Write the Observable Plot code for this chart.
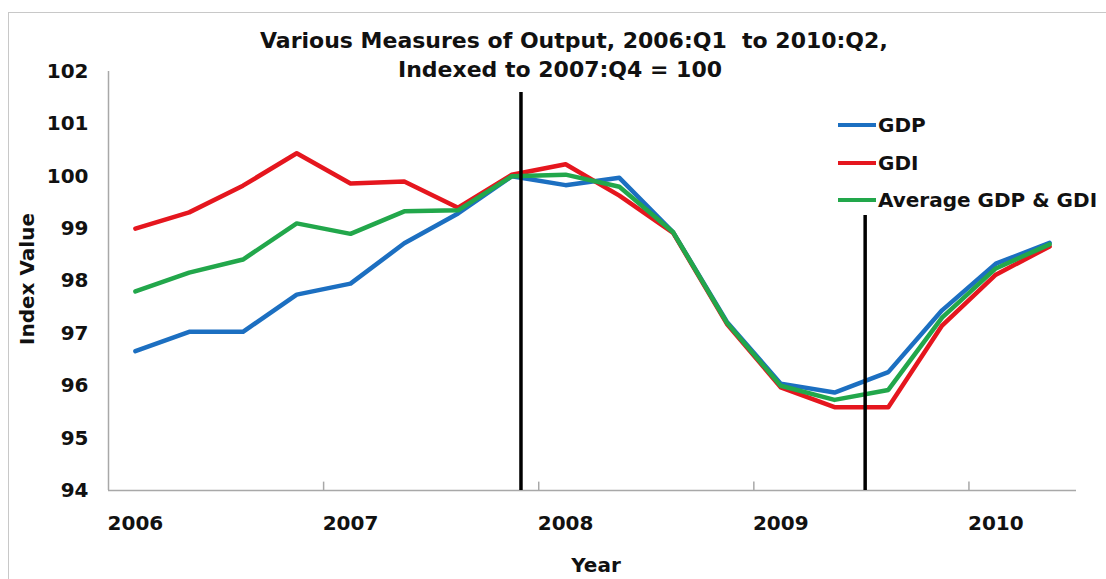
<!DOCTYPE html>
<html>
<head>
<meta charset="utf-8">
<script src="https://cdn.jsdelivr.net/npm/d3@7"></script>
<script src="https://cdn.jsdelivr.net/npm/@observablehq/plot@0.6"></script>
<style>
  html, body { margin: 0; padding: 0; background: #fff; overflow: hidden; }
  #wrap { position: relative; width: 1106px; height: 579px; font-family: "DejaVu Sans", sans-serif; font-weight: bold; color: #111; }
  #chart { position: absolute; left: 0; top: 0; }
  #frame { position: absolute; left: 8px; top: 12px; width: 1300px; height: 800px; border: 1.5px solid #c8c8c8; box-sizing: border-box; pointer-events: none; }
  #title { position: absolute; left: 260px; width: 600px; top: 26px; text-align: center; font-size: 22px; line-height: 29px; white-space: pre; }
  .leg { position: absolute; left: 838px; height: 20px; display: flex; align-items: center; font-size: 20px; line-height: 20px; white-space: nowrap; }
  .sw { width: 38px; height: 4px; margin-right: 2px; }
  #ytitle { position: absolute; left: 27px; top: 279px; font-size: 20px; line-height: 20px; white-space: nowrap; transform: translate(-50%, -50%) rotate(-90deg); }
  #xtitle { position: absolute; left: 596px; top: 565px; font-size: 20px; line-height: 20px; white-space: nowrap; transform: translate(-50%, -50%); }
</style>
</head>
<body>
<div id="wrap">
  <div id="chart"></div>
  <div id="frame"></div>
  <div id="title"></div>
  <div id="legend"></div>
  <div id="ytitle"></div>
  <div id="xtitle"></div>
</div>
<script>
// ---- data ----
const quarters = ["2006:Q1","2006:Q2","2006:Q3","2006:Q4","2007:Q1","2007:Q2","2007:Q3","2007:Q4",
                  "2008:Q1","2008:Q2","2008:Q3","2008:Q4","2009:Q1","2009:Q2","2009:Q3","2009:Q4",
                  "2010:Q1","2010:Q2"];
const gdp = [96.66, 97.03, 97.03, 97.74, 97.95, 98.72, 99.29, 100.00, 99.83, 99.97, 98.93, 97.22, 96.04, 95.87, 96.26, 97.44, 98.33, 98.73];
const gdi = [99.00, 99.31, 99.82, 100.44, 99.86, 99.90, 99.40, 100.03, 100.23, 99.63, 98.92, 97.18, 95.97, 95.59, 95.59, 97.15, 98.12, 98.66];
const avg = [97.80, 98.16, 98.41, 99.10, 98.90, 99.33, 99.35, 100.00, 100.03, 99.80, 98.93, 97.20, 96.00, 95.73, 95.92, 97.30, 98.24, 98.70];
const seriesNames = ["GDP", "GDI", "Average GDP & GDI"];
const seriesColors = ["#1c6fc1", "#e5161e", "#22a74b"];
const yTicks = [94, 95, 96, 97, 98, 99, 100, 101, 102];
const yearLabels = ["2006", "2007", "2008", "2009", "2010"];
const yearTickIndex = [0, 4, 8, 12, 16];
const yearBoundaries = [3.5, 7.5, 11.5, 15.5];
// recession markers (quarter-index position, top value of marker)
const recessionX = [7.17, 13.57];
const recessionTop = [101.6, 99.25];
const titleLines = ["Various Measures of Output, 2006:Q1  to 2010:Q2,", "Indexed to 2007:Q4 = 100"];
const yTitle = "Index Value";
const xTitle = "Year";

// ---- build ----
const rows = [];
[gdp, gdi, avg].forEach((arr, k) => arr.forEach((v, i) =>
  rows.push({i, quarter: quarters[i], series: seriesNames[k], value: v})));
const recessions = recessionX.map((x, k) => ({x, top: recessionTop[k]}));

const chart = Plot.plot({
  width: 1106, height: 579,
  marginTop: 71, marginBottom: 89, marginLeft: 108, marginRight: 30,
  style: {background: "transparent", fontFamily: "DejaVu Sans, sans-serif", fontWeight: "bold", color: "#111"},
  x: {type: "linear", domain: [-0.5, 17.5]},
  y: {domain: [94, 102]},
  color: {domain: seriesNames, range: seriesColors},
  marks: [
    Plot.ruleX([-0.5], {stroke: "#a8a8a8", strokeWidth: 1.5}),
    Plot.ruleY([94], {stroke: "#a8a8a8", strokeWidth: 1.5}),
    Plot.ruleX(yearBoundaries, {y1: 94, y2: 94.16, stroke: "#a8a8a8", strokeWidth: 1.5}),
    Plot.axisY({ticks: yTicks, tickSize: 0, tickPadding: 20, fontSize: 20, label: null}),
    Plot.axisX({ticks: yearTickIndex, tickFormat: d => yearLabels[yearTickIndex.indexOf(d)],
                tickSize: 0, tickPadding: 25, fontSize: 20, label: null}),
    Plot.line(rows, {x: "i", y: "value", z: "series", stroke: "series", strokeWidth: 4.5,
                     strokeLinejoin: "round", strokeLinecap: "round"}),
    Plot.ruleX(recessions, {x: "x", y1: 94, y2: "top", stroke: "#000", strokeWidth: 3.5})
  ]
});
document.getElementById("chart").appendChild(chart);

document.getElementById("title").textContent = titleLines.join("\n");
document.getElementById("ytitle").textContent = yTitle;
document.getElementById("xtitle").textContent = xTitle;
const legendTops = [115, 153, 190];
const leg = document.getElementById("legend");
seriesNames.forEach((name, k) => {
  const row = document.createElement("div");
  row.className = "leg";
  row.style.top = legendTops[k] + "px";
  const sw = document.createElement("div");
  sw.className = "sw";
  sw.style.background = seriesColors[k];
  const t = document.createElement("span");
  t.textContent = name;
  row.appendChild(sw); row.appendChild(t);
  leg.appendChild(row);
});
</script>
</body>
</html>
